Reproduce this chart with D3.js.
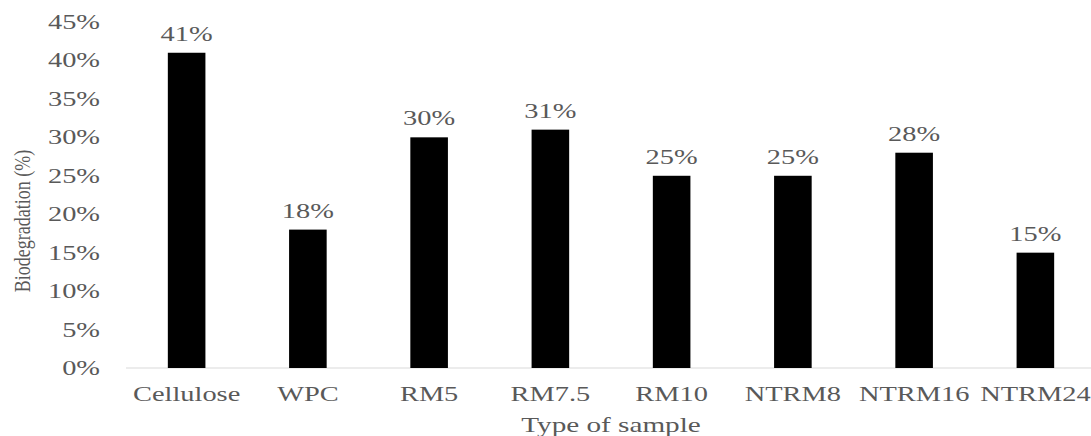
<!DOCTYPE html>
<html>
<head>
<meta charset="utf-8">
<script src="https://cdn.jsdelivr.net/npm/d3@7"></script>
<style>
  body { margin: 0; background: #fff; }
  svg { display: block; }
  text { font-family: "Liberation Serif", "Times New Roman", serif; fill: #595959; }
</style>
</head>
<body>
<svg id="chart" width="1091" height="436"></svg>
<script>
const categories = ["Cellulose", "WPC", "RM5", "RM7.5", "RM10", "NTRM8", "NTRM16", "NTRM24"];
const values = [0.41, 0.18, 0.30, 0.31, 0.25, 0.25, 0.28, 0.15];
const yTicks = [0, 0.05, 0.10, 0.15, 0.20, 0.25, 0.30, 0.35, 0.40, 0.45];
const yTitle = "Biodegradation (%)";
const xTitle = "Type of sample";

const SX = 1.42;
const svg = d3.select("#chart");
const x = d3.scaleBand().domain(categories).range([126, 1096]).paddingInner(0.69).paddingOuter(0.345);
const y = d3.scaleLinear().domain([0, 0.45]).range([368, 22]);
const pct = d3.format(".0%");

// x axis line
svg.append("line")
  .attr("x1", 126).attr("x2", 1091)
  .attr("y1", y(0)).attr("y2", y(0))
  .attr("stroke", "#d9d9d9").attr("stroke-width", 1);

// bars
svg.selectAll("rect.bar").data(values).join("rect")
  .attr("class", "bar")
  .attr("x", (d, i) => x(categories[i]))
  .attr("width", x.bandwidth())
  .attr("y", d => y(d))
  .attr("height", d => y(0) - y(d))
  .attr("fill", "#000");

// value labels
svg.selectAll("text.val").data(values).join("text")
  .attr("class", "val")
  .attr("text-anchor", "middle")
  .attr("font-size", 20)
  .attr("transform", (d, i) => `translate(${x(categories[i]) + x.bandwidth() / 2},${y(d) - 12}) scale(${SX},1)`)
  .text(d => pct(d));

// y tick labels
svg.selectAll("text.ytick").data(yTicks).join("text")
  .attr("class", "ytick")
  .attr("text-anchor", "end")
  .attr("font-size", 20)
  .attr("transform", d => `translate(100,${y(d) + 7}) scale(${SX},1)`)
  .text(d => pct(d));

// x tick labels
svg.selectAll("text.xtick").data(categories).join("text")
  .attr("class", "xtick")
  .attr("text-anchor", "middle")
  .attr("font-size", 20)
  .attr("transform", d => `translate(${x(d) + x.bandwidth() / 2},401) scale(${SX},1)`)
  .text(d => d);

// x title
svg.append("text")
  .attr("text-anchor", "middle")
  .attr("font-size", 20)
  .attr("transform", `translate(611,432) scale(1.46,1)`)
  .text(xTitle);

// y title
svg.append("text")
  .attr("text-anchor", "middle")
  .attr("font-size", 18)
  .attr("transform", `translate(30,221) rotate(-90) scale(1,1.3)`)
  .text(yTitle);
</script>
</body>
</html>
